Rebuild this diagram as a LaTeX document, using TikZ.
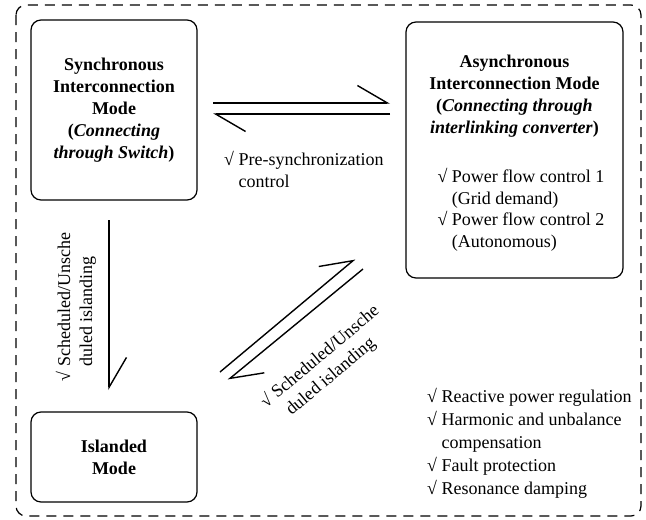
\documentclass[tikz,border=0pt]{standalone}
\usepackage{fontspec}
\setmainfont{Liberation Serif}
\usepackage{tikz}
\usetikzlibrary{arrows.meta,positioning,calc}
\newcommand{\chk}{√\ }
\newcommand{\ind}{\hphantom{√\ }}

\begin{document}
\begin{tikzpicture}[x=1pt,y=-1pt,
    every node/.style={inner sep=0pt,font=\fontsize{18}{21.5}\selectfont},
    boldtxt/.style={align=center,font=\fontsize{18}{22}\selectfont\bfseries},
    listtxt/.style={align=left,font=\fontsize{18}{22}\selectfont},
    modebox/.style={draw,rounded corners=10pt,line width=1.2pt},
    harp/.style={line width=1.4pt,-{Straight Barb[harpoon,length=30pt,width=35pt]}}]
    %
    \useasboundingbox (0,0) rectangle (646,520);
    \draw[line width=1.2pt,dash pattern=on 10pt off 7pt,rounded corners=10pt] (16,5) rectangle (641,516);
    %
    \node[modebox,boldtxt,minimum width=166pt,minimum height=180pt] (sync) at (114,110) {Synchronous\\Interconnection\\Mode\\(\textit{Connecting}\\\textit{through Switch})};
    \node[modebox,minimum width=217pt,minimum height=256pt] (async) at (514.5,150) {};
    \node[boldtxt,below=33pt of async.north] (asynctitle) {Asynchronous\\Interconnection Mode\\(\textit{Connecting through}\\\textit{interlinking converter})};
    \node[listtxt,font=\fontsize{18}{21.5}\selectfont,anchor=north west] (asynclist) at ($(async.north west)+(32,147)$) {\chk Power flow control 1\\\ind(Grid demand)\\\chk Power flow control 2\\\ind(Autonomous)};
    \node[modebox,boldtxt,minimum width=166pt,minimum height=90pt] (island) at (114,457) {Islanded\\Mode};
    %
    \coordinate (h1a) at (213,103);
    \coordinate (h1b) at (390,103);
    \coordinate (h2a) at (390,114);
    \coordinate (h2b) at (213,114);
    \coordinate (v1a) at (109,220);
    \coordinate (v1b) at (109,390);
    \coordinate (d1a) at (220,372);
    \coordinate (d1b) at (355,259);
    \coordinate (d2a) at (363,269);
    \coordinate (d2b) at (228,380);
    %
    \draw[harp] (h1a) -- (h1b);
    \draw[harp] (h2a) -- (h2b);
    \draw[harp] (v1a) -- (v1b);
    \draw[harp] (d1a) -- (d1b);
    \draw[harp] (d2a) -- (d2b);
    %
    \node[listtxt,anchor=north west] (presync) at (224,151) {\chk Pre-synchronization\\\ind control};
    \node[listtxt,rotate=90] (islandlbl) at (76,307) {\chk Scheduled/Unsche\\\ind duled islanding};
    \node[listtxt,rotate=40] (islandlbl2) at (327,365) {\chk Scheduled/Unsche\\\ind duled islanding};
    \node[listtxt,font=\fontsize{18}{23}\selectfont,anchor=north west] (functions) at (427,388) {\chk Reactive power regulation\\\chk Harmonic and unbalance\\\ind compensation\\\chk Fault protection\\\chk Resonance damping};
    %
\end{tikzpicture}
\end{document}
